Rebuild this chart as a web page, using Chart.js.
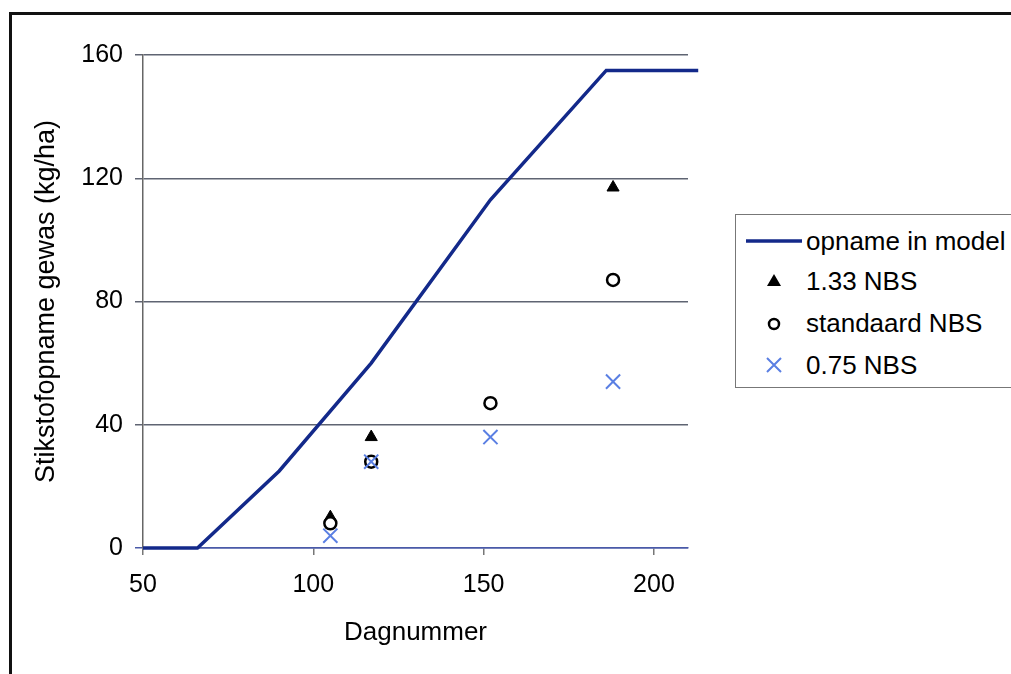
<!DOCTYPE html>
<html>
<head>
<meta charset="utf-8">
<script src="https://cdn.jsdelivr.net/npm/chart.js@4/dist/chart.umd.min.js"></script>
<style>
  html, body { margin: 0; padding: 0; background: #fff; }
  body { width: 1011px; height: 674px; position: relative; overflow: hidden; font-family: "Liberation Sans", Arial, sans-serif; }
  #frame { position: absolute; left: 9px; top: 12px; width: 1100px; height: 800px; border: 3px solid #111; }
  #wrap { position: absolute; left: 0; top: 0; width: 1011px; height: 674px; }
  #legend { position: absolute; left: 735px; top: 214px; width: 320px; height: 172px; border: 1.5px solid #777; background: #fff; }
  .row { position: absolute; left: 0; height: 30px; font-size: 26px; color: #000; }
  .row span { position: absolute; left: 70px; top: 0; line-height: 30px; white-space: nowrap; }
  .row svg { position: absolute; left: 0; top: 0; }
</style>
</head>
<body>
<div id="frame"></div>
<div id="wrap"><canvas id="chart" width="1011" height="674"></canvas></div>
<div id="legend">
  <div class="row" style="top:11px"><svg width="70" height="30"><line x1="10" y1="15" x2="66" y2="15" stroke="#13298a" stroke-width="3.5"/></svg><span>opname in model</span></div>
  <div class="row" style="top:51px"><svg width="70" height="30"><polygon points="38,8 45,20 31,20" fill="#000"/></svg><span>1.33 NBS</span></div>
  <div class="row" style="top:93px"><svg width="70" height="30"><circle cx="38" cy="16" r="5" fill="#fff" stroke="#000" stroke-width="2.5"/></svg><span>standaard NBS</span></div>
  <div class="row" style="top:135px"><svg width="70" height="30"><path d="M31,8 L45,22 M45,8 L31,22" stroke="#5a7fe3" stroke-width="2"/></svg><span>0.75 NBS</span></div>
</div>
<script>
  "use strict";

  // model uptake line
  const modelDays = [50, 66, 90, 117, 152, 186, 213];
  const modelUptake = [0, 0, 25, 60, 113, 155, 155];

  // measured points
  const measDays = [105, 117, 152, 188];
  const nbs133 = [10, 36, null, 117];
  const nbsStd = [8, 28, 47, 87];
  const nbs075 = [4, 28, 36, 54];

  const xTicks = [50, 100, 150, 200];
  const yTicks = [0, 40, 80, 120, 160];

  const pts = (xs, ys) => xs.map((x, i) => ({ x: x, y: ys[i] })).filter((p) => p.y !== null);
  const FAMILY = "'Liberation Sans', Arial, sans-serif";
  const TICK_FONT = { family: FAMILY, size: 25 };

  new Chart(document.getElementById("chart").getContext("2d"), {
    type: "scatter",
    data: {
      datasets: [
        { label: "opname in model", type: "line", data: pts(modelDays, modelUptake), borderColor: "#13298a", borderWidth: 3.5,
          pointRadius: 0, fill: false, tension: 0, clip: false, order: 4 },
        { label: "1.33 NBS", data: pts(measDays, nbs133), pointStyle: "triangle", pointRadius: 7,
          backgroundColor: "#000", borderColor: "#000", borderWidth: 1, order: 3 },
        { label: "standaard NBS", data: pts(measDays, nbsStd), pointStyle: "circle", pointRadius: 6,
          backgroundColor: "#fff", borderColor: "#000", borderWidth: 2.5, order: 2 },
        { label: "0.75 NBS", data: pts(measDays, nbs075), pointStyle: "crossRot", pointRadius: 10,
          borderColor: "#5a7fe3", borderWidth: 2, order: 1 },
      ],
    },
    options: {
      responsive: false, animation: false, events: [],
      layout: { padding: { left: 0, right: 323, top: 55, bottom: 0 } },
      plugins: { legend: { display: false }, tooltip: { enabled: false } },
      scales: {
        x: {
          type: "linear", min: 50, max: 210,
          afterBuildTicks: (s) => { s.ticks = xTicks.map((v) => ({ value: v })); },
          afterFit: (s) => { s.height = 126; },
          ticks: { color: "#000", font: TICK_FONT, padding: 15, maxRotation: 0 },
          grid: { drawOnChartArea: false, drawTicks: true, tickLength: 7, color: "#777", lineWidth: 1.5 },
          border: { display: true, color: "#4a5aa8", width: 1.5 },
          title: { display: true, text: "Dagnummer", color: "#000", font: { family: FAMILY, size: 26 }, padding: { top: 0, bottom: 26 } },
        },
        y: {
          type: "linear", min: 0, max: 160,
          afterBuildTicks: (s) => { s.ticks = yTicks.map((v) => ({ value: v })); },
          afterFit: (s) => { s.width = 143; },
          ticks: { color: "#000", font: TICK_FONT, padding: 12 },
          grid: { drawTicks: true, tickLength: 8, lineWidth: 1.5,
            color: (c) => (c.tick && c.tick.value === 0 ? "#4a5aa8" : "#5f6472") },
          border: { display: true, color: "#666", width: 1.5 },
          title: { display: true, text: "Stikstofopname gewas (kg/ha)", color: "#000", font: { family: FAMILY, size: 27 }, padding: { top: 30, bottom: 0 } },
        },
      },
    },
  });
</script>
</body>
</html>
